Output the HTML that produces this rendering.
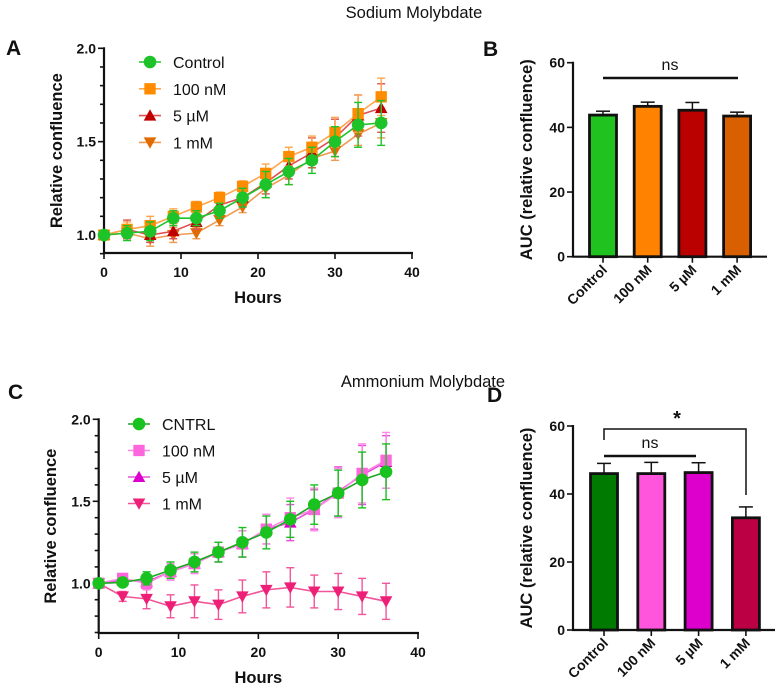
<!DOCTYPE html>
<html><head><meta charset="utf-8">
<style>
body{margin:0;background:#fff;}
svg{display:block;font-family:"Liberation Sans",Arial,sans-serif;}
.tk{font-size:14px;font-weight:bold;fill:#111;}
.tt{font-size:16.5px;font-weight:bold;fill:#111;}
.lg{font-size:16px;fill:#111;}
</style></head>
<body>
<svg id="fig" width="783" height="694" viewBox="0 0 783 694" xmlns="http://www.w3.org/2000/svg"></svg>
<script>
// ---- Data ----
const hours = [0,3,6,9,12,15,18,21,24,27,30,33,36];
const xTicks = [0,10,20,30,40];
const yTicksLine = [1.0,1.5,2.0];
const yTicksBar = [0,20,40,60];

const aNames = ['Control','100 nM','5 µM','1 mM'];
const aControl = [1.0,1.01,1.02,1.09,1.09,1.13,1.20,1.27,1.34,1.40,1.50,1.59,1.60];
const aControlErr = [0.01,0.04,0.05,0.04,0.04,0.04,0.05,0.07,0.07,0.07,0.08,0.12,0.12];
const a100nM = [1.0,1.03,1.05,1.10,1.15,1.20,1.26,1.33,1.42,1.47,1.55,1.65,1.74];
const a100nMErr = [0.01,0.04,0.05,0.04,0.03,0.03,0.03,0.05,0.05,0.06,0.08,0.10,0.10];
const a5uM = [1.0,1.03,1.00,1.02,1.07,1.16,1.20,1.28,1.37,1.44,1.52,1.64,1.68];
const a5uMErr = [0.01,0.05,0.04,0.04,0.04,0.04,0.05,0.06,0.07,0.08,0.10,0.11,0.13];
const a1mM = [1.0,1.01,0.98,1.00,1.01,1.08,1.15,1.25,1.32,1.41,1.45,1.54,1.60];
const a1mMErr = [0.01,0.03,0.04,0.04,0.03,0.03,0.03,0.05,0.05,0.05,0.05,0.06,0.08];

const cNames = ['CNTRL','100 nM','5 µM','1 mM'];
const cControl = [1.0,1.005,1.03,1.08,1.13,1.19,1.25,1.31,1.39,1.48,1.55,1.63,1.68];
const cControlErr = [0.01,0.02,0.04,0.05,0.06,0.06,0.09,0.10,0.11,0.12,0.14,0.17,0.17];
const c100nM = [1.0,1.03,1.00,1.07,1.12,1.19,1.24,1.33,1.40,1.45,1.55,1.67,1.75];
const c100nMErr = [0.01,0.02,0.04,0.05,0.06,0.06,0.08,0.09,0.12,0.13,0.15,0.18,0.17];
const c5uM = [1.0,1.02,1.01,1.07,1.12,1.19,1.24,1.33,1.37,1.45,1.56,1.66,1.74];
const c5uMErr = [0.01,0.02,0.04,0.05,0.06,0.06,0.08,0.09,0.11,0.12,0.15,0.18,0.16];
const c1mM = [1.0,0.92,0.905,0.86,0.89,0.87,0.92,0.96,0.975,0.95,0.95,0.92,0.89];
const c1mMErr = [0.01,0.03,0.06,0.07,0.10,0.09,0.10,0.11,0.12,0.10,0.11,0.11,0.11];

const bCategories = ['Control','100 nM','5 µM','1 mM'];
const bValues = [43.8,46.5,45.3,43.5];
const bErrors = [1.2,1.3,2.4,1.2];
const dCategories = ['Control','100 nM','5 µM','1 mM'];
const dValues = [46.0,46.0,46.3,33.0];
const dErrors = [3.0,3.3,2.9,3.2];

const NS='http://www.w3.org/2000/svg';
const svg=document.getElementById('fig');
function el(tag,attrs,parent,txt){const e=document.createElementNS(NS,tag);for(const k in attrs)e.setAttribute(k,attrs[k]);if(txt!==undefined)e.textContent=txt;(parent||svg).appendChild(e);return e;}

function marker(g,shape,x,y,color){
  const s=6.3;
  if(shape==='circle')return el('circle',{cx:x,cy:y,r:s,fill:color},g);
  if(shape==='square')return el('rect',{x:x-s*0.9,y:y-s*0.9,width:1.8*s,height:1.8*s,fill:color},g);
  if(shape==='up')return el('polygon',{points:`${x},${y-s} ${x+s},${y+s*0.8} ${x-s},${y+s*0.8}`,fill:color},g);
  return el('polygon',{points:`${x},${y+s} ${x+s},${y-s*0.8} ${x-s},${y-s*0.8}`,fill:color},g);
}

function linePanel(cfg){
  const g=el('g',{});
  
  
  const X=v=>cfg.x0+v*(cfg.x40-cfg.x0)/40;
  const Y=v=>cfg.y1-(v-1)*(cfg.y1-cfg.y2px);
  const yb=cfg.axisY;
  const ax=el('line',{x1:cfg.x0,y1:Y(2.0)-1,x2:cfg.x0,y2:yb,stroke:'#111','stroke-width':2.2},g);
  
  const xa=el('line',{x1:cfg.x0-1,y1:yb,x2:X(40)+1,y2:yb,stroke:'#111','stroke-width':2.2},g);
  
  for(let v=cfg.ymin;v<=2.0001;v+=0.1){
    const major=yTicksLine.some(t=>Math.abs(t-v)<1e-6);
    el('line',{x1:cfg.x0-(major?6:4),y1:Y(v),x2:cfg.x0,y2:Y(v),stroke:'#111','stroke-width':1.6},g);
  }
  yTicksLine.forEach(t=>{const e=el('text',{x:cfg.x0-8,y:Y(t)+5,'text-anchor':'end',class:'tk'},g,t.toFixed(1));});
  xTicks.forEach(t=>{el('line',{x1:X(t),y1:yb,x2:X(t),y2:yb+6,stroke:'#111','stroke-width':1.6},g);
    const e=el('text',{x:X(t),y:yb+24,'text-anchor':'middle',class:'tk'},g,t);});
  const xt=el('text',{x:X(20),y:yb+50,'text-anchor':'middle',class:'tt'},g,'Hours');
  
  const cy=(Y(2.0)+yb)/2;
  const yt=el('text',{x:cfg.titleX,y:cy,'text-anchor':'middle',class:'tt',transform:`rotate(-90 ${cfg.titleX} ${cy})`},g,'Relative confluence');
  
  for(let si=cfg.series.length-1;si>=0;si--){
    const s=cfg.series[si];
    const sg=el('g',{},g);
    
    
    s.vals.forEach((v,i)=>{const x=X(hours[i]),e=s.err[i];
      el('line',{x1:x,y1:Y(v+e),x2:x,y2:Y(v-e),stroke:s.ecolor,'stroke-width':1.4},sg);
      el('line',{x1:x-4,y1:Y(v+e),x2:x+4,y2:Y(v+e),stroke:s.ecolor,'stroke-width':1.4},sg);
      el('line',{x1:x-4,y1:Y(v-e),x2:x+4,y2:Y(v-e),stroke:s.ecolor,'stroke-width':1.4},sg);});
    el('polyline',{points:s.vals.map((v,i)=>X(hours[i])+','+Y(v)).join(' '),fill:'none',stroke:s.lcolor,'stroke-width':1.6},sg);
    s.vals.forEach((v,i)=>{const m=marker(sg,s.shape,X(hours[i]),Y(v),s.color);});
  }
  const lg=el('g',{},g);
  
  cfg.series.forEach((s,i)=>{const yy=cfg.legY+i*cfg.legDy;
    const eg=el('g',{},lg);
    el('line',{x1:cfg.legX-11,y1:yy,x2:cfg.legX+11,y2:yy,stroke:s.lcolor,'stroke-width':1.6},eg);
    marker(eg,s.shape,cfg.legX,yy,s.color);
    el('text',{x:cfg.legX+23,y:yy+6,class:'lg'},eg,cfg.names[i]);});
}

function barPanel(cfg){
  const g=el('g',{});
  
  const Y=v=>cfg.y0+(cfg.y60-cfg.y0)*v/60;
  const ax=el('line',{x1:cfg.ax,y1:Y(60)-1,x2:cfg.ax,y2:cfg.y0,stroke:'#111','stroke-width':2.2},g);
  
  const xa=el('line',{x1:cfg.ax-1,y1:cfg.y0,x2:cfg.xend,y2:cfg.y0,stroke:'#111','stroke-width':2.2},g);
  
  yTicksBar.forEach(t=>{el('line',{x1:cfg.ax-6,y1:Y(t),x2:cfg.ax,y2:Y(t),stroke:'#111','stroke-width':1.6},g);
    const e=el('text',{x:cfg.ax-8,y:Y(t)+5,'text-anchor':'end',class:'tk'},g,t);});
  const cy=(Y(60)+cfg.y0)/2;
  const yt=el('text',{x:cfg.titleX,y:cy,'text-anchor':'middle',class:'tt',transform:`rotate(-90 ${cfg.titleX} ${cy})`},g,'AUC (relative confluence)');
  
  const w=27;
  cfg.values.forEach((v,i)=>{const cx=cfg.c0+i*cfg.dc;
    const e=cfg.errors[i];
    el('line',{x1:cx,y1:Y(v),x2:cx,y2:Y(v+e),stroke:'#111','stroke-width':1.5},g);
    el('line',{x1:cx-7,y1:Y(v+e),x2:cx+7,y2:Y(v+e),stroke:'#111','stroke-width':1.5},g);
    const r=el('rect',{x:cx-w/2,y:Y(v),width:w,height:cfg.y0-Y(v),fill:cfg.colors[i],stroke:'#111','stroke-width':2.8},g);
    
    el('line',{x1:cx,y1:cfg.y0,x2:cx,y2:cfg.y0+6,stroke:'#111','stroke-width':1.6},g);
    const t=el('text',{x:cx+5,y:cfg.y0+14,'text-anchor':'end',class:'tk',transform:`rotate(-45 ${cx+5} ${cfg.y0+14})`},g,cfg.cats[i]);
    });
  return {g,Y};
}

linePanel({name:'panel-a-line-chart',x0:104,x40:412,y1:235,y2px:48.3,ymin:0.9,axisY:253,titleX:62,
  names:aNames,legX:150,legY:62,legDy:26.8,
  series:[
   {key:'control',vals:aControl,err:aControlErr,color:'#1ec32a',lcolor:'#1ec32a',ecolor:'#1ec32a',shape:'circle'},
   {key:'100nm',vals:a100nM,err:a100nMErr,color:'#ff8c00',lcolor:'#ffa64d',ecolor:'#ffa64d',shape:'square'},
   {key:'5um',vals:a5uM,err:a5uMErr,color:'#c00000',lcolor:'#e05050',ecolor:'#e05050',shape:'up'},
   {key:'1mm',vals:a1mM,err:a1mMErr,color:'#e06b00',lcolor:'#f09a50',ecolor:'#f09a50',shape:'down'}]});
linePanel({name:'panel-c-line-chart',x0:98.7,x40:418,y1:583.3,y2px:419.3,ymin:0.7,axisY:633,titleX:56,
  names:cNames,legX:139,legY:424,legDy:26.5,
  series:[
   {key:'control',vals:cControl,err:cControlErr,color:'#19c21f',lcolor:'#19a81f',ecolor:'#19c21f',shape:'circle'},
   {key:'100nm',vals:c100nM,err:c100nMErr,color:'#ff66dd',lcolor:'#ff88e6',ecolor:'#ff88e6',shape:'square'},
   {key:'5um',vals:c5uM,err:c5uMErr,color:'#dd00cc',lcolor:'#e650d8',ecolor:'#e650d8',shape:'up'},
   {key:'1mm',vals:c1mM,err:c1mMErr,color:'#ee1f77',lcolor:'#f2559a',ecolor:'#f2559a',shape:'down'}]});

const B=barPanel({name:'panel-b-bar-chart',ax:573,y0:256.7,y60:62.7,xend:767,c0:603,dc:44.7,titleX:532,
  values:bValues,errors:bErrors,cats:bCategories,colors:['#1fc21f','#ff8200','#bb0000','#d96000']});
el('line',{x1:603,y1:78,x2:738,y2:78,stroke:'#111','stroke-width':2.5},B.g);
el('text',{x:670,y:70,'text-anchor':'middle','font-size':16,fill:'#111'},B.g,'ns');

const D=barPanel({name:'panel-d-bar-chart',ax:573,y0:630,y60:426,xend:775,c0:604,dc:47.3,titleX:532,
  values:dValues,errors:dErrors,cats:dCategories,colors:['#007a00','#ff55dd','#dd00cc','#bb0044']});
el('line',{x1:604,y1:456,x2:696,y2:456,stroke:'#111','stroke-width':2.5},D.g);
el('text',{x:650,y:448,'text-anchor':'middle','font-size':16,fill:'#111'},D.g,'ns');
el('polyline',{points:'604,440 604,429 746,429 746,495',fill:'none',stroke:'#111','stroke-width':1.5},D.g);
el('text',{x:677,y:425,'text-anchor':'middle','font-size':20,'font-weight':'bold',fill:'#111'},D.g,'*');

[['Sodium  Molybdate',414,18,'title-sodium-molybdate'],['Ammonium  Molybdate',423,387,'title-ammonium-molybdate']].forEach(a=>{
  const t=el('text',{x:a[1],y:a[2],'text-anchor':'middle','font-size':16.5,fill:'#111','xml:space':'preserve'},svg,a[0]);
  });
[['A',6,55],['B',483,56],['C',8,399],['D',487,402]].forEach(a=>{
  const t=el('text',{x:a[1],y:a[2],'font-size':21,'font-weight':'bold',fill:'#111'},svg,a[0]);
  });
</script>
</body></html>
